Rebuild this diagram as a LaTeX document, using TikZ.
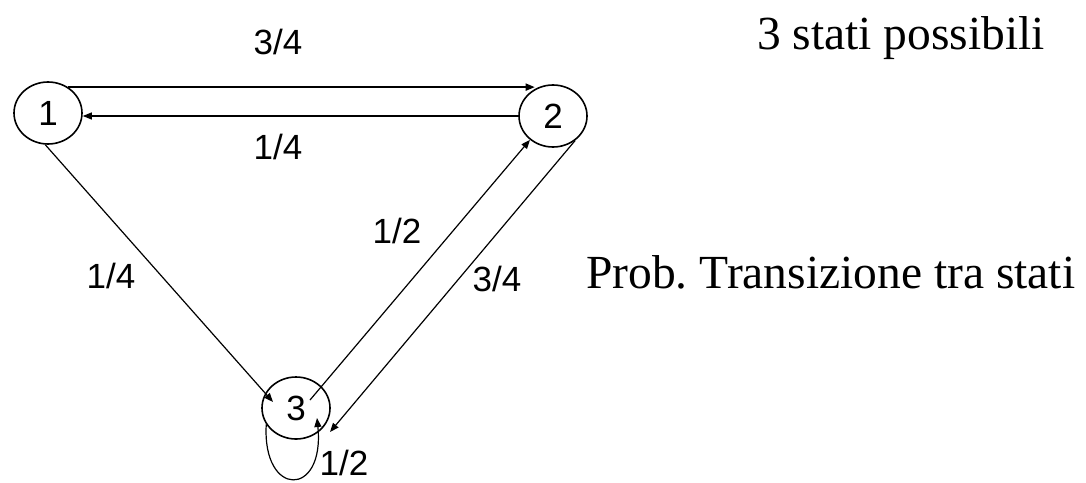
\documentclass[tikz,border=0pt]{standalone}
\usepackage{fontspec}
\setmainfont{Liberation Serif}
\newfontfamily\arialf{Liberation Sans}
\usetikzlibrary{shapes.geometric,arrows.meta,calc}
\frenchspacing
\begin{document}
\begin{tikzpicture}[x=1pt,y=-1pt,
  state/.style={ellipse,draw,line width=1.6pt,minimum width=68pt,minimum height=62pt,inner sep=0pt,font=\arialf\fontsize{35}{35}\selectfont},
  lbl/.style={font=\arialf\fontsize{35}{35}\selectfont,inner sep=0pt},
  big/.style={font=\fontsize{47.5}{50}\selectfont,inner sep=0pt,anchor=base west},
  arr/.style={-{Triangle[length=9pt,width=7pt]},line width=1.2pt}]
\useasboundingbox (0,0) rectangle (1086,482);
\node[state] (n1) at (48,113) {1};
\node[state] (n2) at (553,116) {2};
\node[state] (n3) at (296,408) {3};
% 1 <-> 2
\draw[arr,line width=1.7pt] (n1.52) -- (n1.52 -| n2.124);
\draw[arr] (n2.west) -- (n2.west -| n1.east);
% 1 -> 3
\coordinate (a13) at ($(n3.center)+(-23,-6)$);
\draw[arr] (n1.265) -- (a13);
% 3 -> 2
\coordinate (s32) at ($(n3.center)+(14,-8)$);
\draw[arr] (s32) -- (n2.226);
% 2 -> 3
\coordinate (e23) at ($(n3.center)+(34,24)$);
\draw[arr] (n2.-48) -- (e23);
% self loop
\coordinate (c1) at ($(n3.center)+(-34,90)$);
\coordinate (c2) at ($(n3.center)+(29,90)$);
\coordinate (e33) at ($(n3.center)+(21,10)$);
\draw[arr] (n3.209) .. controls (c1) and (c2) .. (e33);
% labels
\node[lbl] (l12) at (278,42) {3/4};
\node[lbl] (l21) at (278,147) {1/4};
\node[lbl] (l13) at (111,276) {1/4};
\node[lbl] (l32) at (397,231) {1/2};
\node[lbl] (l23) at (497,279) {3/4};
\node[lbl] (l33) at (344,463) {1/2};
\node[big] (t1) at (757,49) {3 stati possibili};
\node[big] (t2) at (586,288) {Prob. Transizione tra stati};
\end{tikzpicture}
\end{document}
